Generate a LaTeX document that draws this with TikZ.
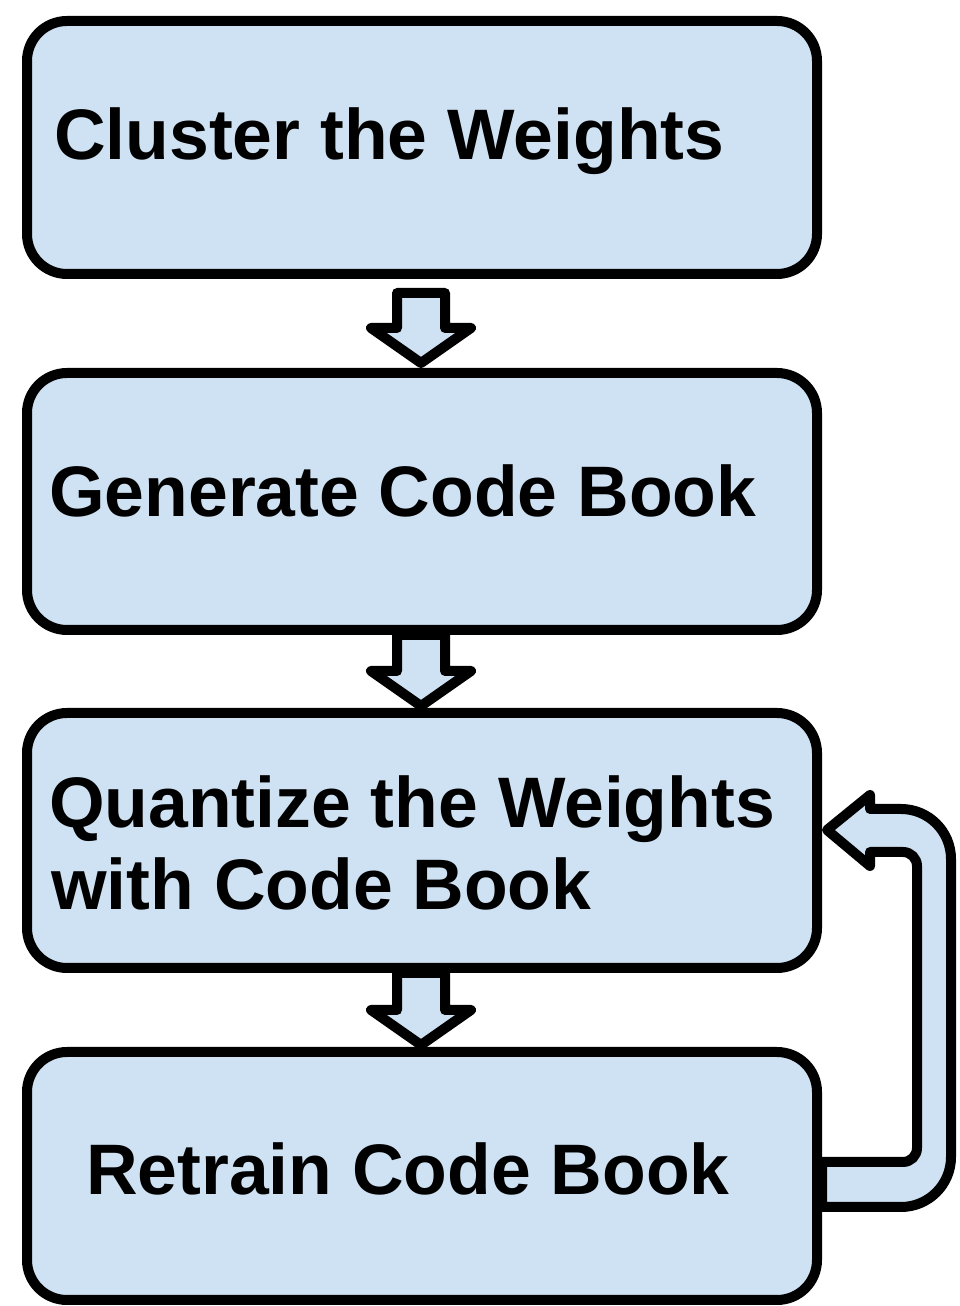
\documentclass[tikz,border=0pt]{standalone}
\usepackage{fontspec}
\setmainfont{Liberation Sans}
\usetikzlibrary{calc}
\definecolor{boxblue}{HTML}{CFE2F3}
\tikzset{
  stepbox/.style={draw=black, fill=boxblue, line width=10pt, rounded corners=40pt,
    rectangle, inner sep=0pt, minimum width=790pt},
  label/.style={anchor=base west, inner sep=0pt, font=\fontsize{71.5}{82}\selectfont\bfseries},
  blockar/.style={draw=black, fill=boxblue, line width=10pt, line join=round},
  loopar/.style={draw=black, fill=boxblue, line width=10pt, line join=round}
}
\newcommand\blockdown[2]{%
  \draw[blockar] let \p1=(#1), \p2=(#2) in
    (\x1-25pt,\y1) -- (\x1+23pt,\y1) -- (\x1+23pt,\y2+35pt) -- (\x1+49pt,\y2+35pt)
    -- (\x1-1pt,\y2) -- (\x1-51pt,\y2+35pt) -- (\x1-25pt,\y2+35pt) -- cycle;}
\begin{document}
\begin{tikzpicture}[x=1pt,y=1pt]
\useasboundingbox (0,0) rectangle (959,1306);
% boxes
\node[stepbox, minimum height=253pt] (b1) at (422,1158.5) {};
\node[stepbox, minimum height=257pt] (b2) at (422,804.5) {};
\node[stepbox, minimum height=255pt] (b3) at (422,465.5) {};
\node[stepbox, minimum height=248pt] (b4) at (422,130) {};
% texts
\node[label] (t1) at (54,1146) {Cluster the Weights};
\node[label] (t2) at (49,789) {Generate Code Book};
\node[label] (t3) at (49,478) {Quantize the Weights};
\node[label] (t3b) at (51,396) {with Code Book};
\node[label] (t4) at (86,111) {Retrain Code Book};
% block arrows
\coordinate (a1t) at ($(b1.south)+(0,-14)$);
\coordinate (a1h) at ($(b2.north)+(0,5)$);
\coordinate (a2t) at (b2.south);
\coordinate (a2h) at ($(b3.north)+(0,2)$);
\coordinate (a3t) at (b3.south);
\coordinate (a3h) at ($(b4.north)+(0,2)$);
\blockdown{a1t}{a1h}
\blockdown{a2t}{a2h}
\blockdown{a3t}{a3h}
% loop arrow from box 4 back to box 3
\coordinate (ls) at ($(b4.east)+(0,-31)$);
\coordinate (le) at ($(b4.east)+(0,14)$);
\coordinate (lt) at ($(b3.east)+(5,10.5)$);
\draw[loopar] (ls) -- (901,99) arc[start angle=-90, end angle=0, radius=50]
  -- (951,447) arc[start angle=0, end angle=90, radius=50]
  -- (870,497) -- (870,511) -- (lt) -- (870,440) -- (870,454)
  -- (903,454) arc[start angle=90, end angle=0, radius=14]
  -- (917,158) arc[start angle=0, end angle=-90, radius=14]
  -- (le) -- cycle;
\end{tikzpicture}
\end{document}
